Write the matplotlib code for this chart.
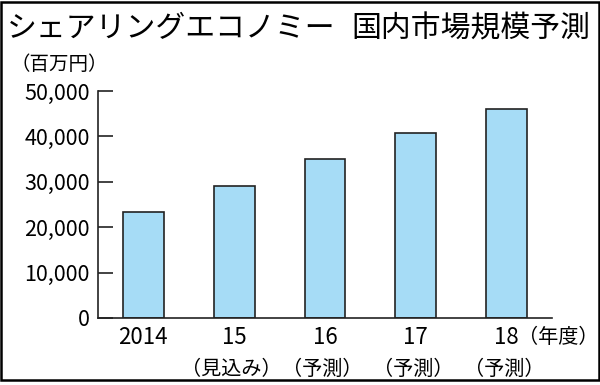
import matplotlib
matplotlib.use("Agg")
import matplotlib.pyplot as plt
from matplotlib.patches import Rectangle

title_left = "シェアリングエコノミー"
title_right = "国内市場規模予測"
unit_label = "（百万円）"
years = ["2014", "15", "16", "17", "18"]
notes = ["", "（見込み）", "（予測）", "（予測）", "（予測）"]
values = [23300, 29100, 35100, 40700, 46100]
yticks = [0, 10000, 20000, 30000, 40000, 50000]
ytick_labels = ["0", "10,000", "20,000", "30,000", "40,000", "50,000"]

jp = "Noto Sans CJK JP"

W, H = 600, 385
fig = plt.figure(figsize=(W / 100, H / 100), dpi=100)
fig.patch.set_facecolor("white")

# frame
fig.patches.append(Rectangle((1 / W, 1 - 380 / H), 597.5 / W, 378.5 / H,
                             transform=fig.transFigure, fill=False,
                             edgecolor="black", linewidth=1.8))

fig.text(7 / W, 1 - 29 / H, title_left, fontsize=21.5, family=jp,
         va="center", ha="left", color="black")
fig.text(590 / W, 1 - 29 / H, title_right, fontsize=21.5, family=jp,
         va="center", ha="right", color="black")
fig.text(10 / W, 1 - 65 / H, unit_label, fontsize=14, family=jp,
         va="center", ha="left")

ax = fig.add_axes([98 / W, 1 - 318 / H, (552 - 98) / W, (318 - 91) / H])
x = list(range(len(years)))
ax.bar(x, values, width=0.45, color="#a6dcf6", edgecolor="#222222",
       linewidth=1.2, zorder=2)
ax.set_xlim(-0.5, 4.5)
ax.set_ylim(0, 50000)
for s in ["top", "right"]:
    ax.spines[s].set_visible(False)
for s in ["left", "bottom"]:
    ax.spines[s].set_linewidth(1.2)
    ax.spines[s].set_color("#222222")
ax.set_yticks(yticks)
ax.set_yticklabels(ytick_labels, family=jp, fontsize=15.5)
ax.tick_params(axis="y", direction="in", length=11, width=1.2,
               color="#222222", pad=6)
ax.set_xticks([])

trans = ax.get_xaxis_transform()
for i, (yr, nt) in enumerate(zip(years, notes)):
    ax.text(i, -0.085, yr, transform=trans, ha="center", va="center",
            family=jp, fontsize=16)
    if nt:
        ax.text(i - 0.03, -0.225, nt, transform=trans, ha="center",
                va="center", family=jp, fontsize=14.5)
ax.text(4.13, -0.085, "（年度）", transform=trans, ha="left", va="center",
        family=jp, fontsize=14.5)

fig.savefig("out.png", dpi=100, facecolor="white")
